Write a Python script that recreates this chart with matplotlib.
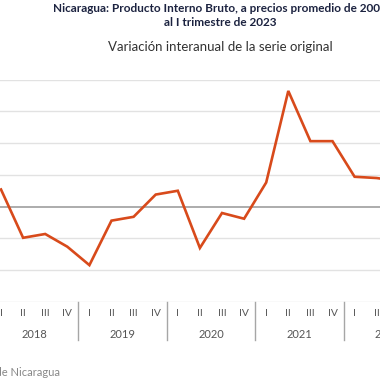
import matplotlib
matplotlib.use("Agg")
import matplotlib.pyplot as plt
import matplotlib.transforms as mtrans

plt.rcParams["font.family"] = ["Lato", "DejaVu Sans"]

years = ["2018", "2019", "2020", "2021", "2022", "2023"]
quarters = ["I", "II", "III", "IV"]
# variación interanual (%), 2018 I .. 2023 I
values = [2.7, -4.9, -4.3, -6.3,
          -9.2, -2.2, -1.6, 1.9,
          2.5, -6.5, -1.0, -1.9,
          3.8, 18.2, 10.3, 10.3,
          4.7, 4.5, 4.0, 3.2,
          3.0]
yticks = [-15, -10, -5, 5, 10, 15, 20]

LINE = "#d84a1b"; NAVY = "#1c2340"; GRID = "#e2e2e2"; ZERO = "#a6a6a6"; TXT = "#555555"

W = H = 380
fig = plt.figure(figsize=(3.8, 3.8), dpi=100)
# the view is a crop: axes run past both sides of the canvas
px0, px1 = 1 + 22.1 * (-4.5), 1 + 22.1 * 20.5
py_top, py_bot = 79.5, 302.0
ax = fig.add_axes([px0 / W, 1 - py_bot / H, (px1 - px0) / W, (py_bot - py_top) / H])

x = list(range(len(values)))
ax.plot(x, values, color=LINE, lw=1.9, zorder=3, solid_joinstyle="miter")

ax.set_xlim(-4.5, 20.5)
ax.set_ylim(-15, 20)
for v in yticks:
    ax.axhline(v, color=GRID, lw=1.0, zorder=1)
ax.axhline(0, color=ZERO, lw=1.3, zorder=2)
for s in ax.spines.values():
    s.set_visible(False)
ax.set_xticks([]); ax.set_yticks([])

tr = mtrans.blended_transform_factory(ax.transData, ax.transAxes)
hpx = py_bot - py_top
for i in range(len(values)):
    ax.text(i, -12 / hpx, quarters[i % 4], transform=tr, ha="center", va="center",
            fontsize=7.5, color=TXT, clip_on=False)
for k, yr in enumerate(years):
    n = min(4, len(values) - 4 * k)
    ax.text(4 * k + (n - 1) / 2, -32 / hpx, yr, transform=tr, ha="center", va="center",
            fontsize=8, color=TXT, clip_on=False)
    ax.plot([4 * k - 0.5] * 2, [0, -38 / hpx], transform=tr, color=ZERO, lw=1.0,
            clip_on=False)
ax.plot([len(values) - 0.5] * 2, [0, -38 / hpx], transform=tr, color=ZERO, lw=1.0,
        clip_on=False)

fig.text(220 / W, 1 - 9 / H, "Nicaragua: Producto Interno Bruto, a precios promedio de 2006",
         ha="center", va="center", fontsize=8.5, fontweight="bold", color=NAVY)
fig.text(220 / W, 1 - 22 / H, "al I trimestre de 2023",
         ha="center", va="center", fontsize=8.5, fontweight="bold", color=NAVY)
fig.text(220 / W, 1 - 47 / H, "Variación interanual de la serie original",
         ha="center", va="center", fontsize=9.5, color="#333333")
fig.text(60 / W, 1 - 372 / H, "Fuente: Banco Central de Nicaragua",
         ha="right", va="center", fontsize=8, color="#888888")

fig.savefig("out.png", dpi=100)
